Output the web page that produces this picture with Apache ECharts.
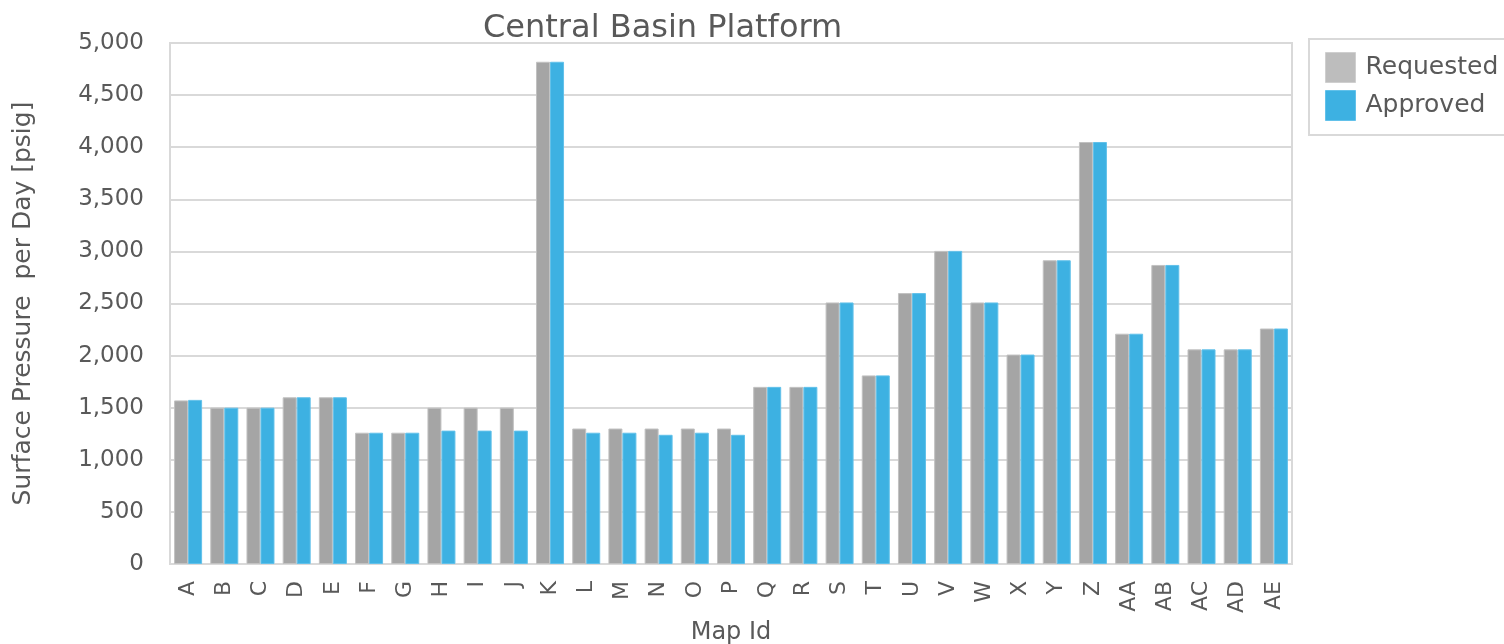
<!DOCTYPE html>
<html>
<head>
<meta charset="UTF-8">
<title>Central Basin Platform</title>
<script src="https://cdn.jsdelivr.net/npm/echarts@6/dist/echarts.min.js"></script>
<style>
body {
    padding: 0;
    margin: 0;
    background: #fff;
}
#main {
    width: 1504px;
    height: 644px;
}
</style>
</head>
<body>
<div id="main"></div>
<script>
// map ids along the x axis
var mapIds = ['A','B','C','D','E','F','G','H','I','J','K','L','M','N','O','P',
    'Q','R','S','T','U','V','W','X','Y','Z','AA','AB','AC','AD','AE'];
// surface pressure per day (psig)
var requested = [1570,1500,1500,1600,1600,1260,1260,1500,1500,1500,4820,1300,1300,1300,1300,1300,
    1700,1700,2510,1810,2600,3005,2510,2010,2915,4050,2210,2870,2060,2060,2260];
var approved = [1575,1500,1500,1600,1600,1260,1260,1280,1280,1280,4820,1260,1260,1240,1260,1240,
    1700,1700,2510,1810,2600,3005,2510,2010,2915,4050,2210,2870,2060,2060,2260];
var yTicks = [0,500,1000,1500,2000,2500,3000,3500,4000,4500,5000];

var txt = '#595959';
var font = 'DejaVu Sans';
var chart = echarts.init(document.getElementById('main'));

var option = {
    animation: false,
    textStyle: { fontFamily: font, color: txt },
    title: {
        text: 'Central Basin Platform',
        left: 478,
        top: 8,
        textStyle: { fontFamily: font, fontSize: 32, fontWeight: 'normal', color: txt }
    },
    legend: {
        data: [
            { name: 'Requested', itemStyle: { color: '#bdbdbd', borderColor: '#cfcfcf', borderWidth: 1 } },
            { name: 'Approved', itemStyle: { color: '#3db1e2', borderColor: '#62c1ea', borderWidth: 1 } }
        ],
        icon: 'rect',
        orient: 'vertical',
        left: 1309,
        top: 39,
        padding: [13, 40, 14, 16],
        itemWidth: 30,
        itemHeight: 30,
        itemGap: 7,
        borderColor: '#d9d9d9',
        borderWidth: 2,
        textStyle: { fontFamily: font, fontSize: 25, color: txt, padding: [0, 0, 0, 5] }
    },
    grid: {
        left: 170,
        right: 212,
        top: 43,
        bottom: 80,
        outerBoundsMode: 'none',
        show: true,
        borderColor: '#d9d9d9',
        borderWidth: 2
    },
    xAxis: {
        type: 'category',
        data: mapIds,
        name: 'Map Id',
        nameLocation: 'middle',
        nameGap: 52,
        nameTextStyle: { fontFamily: font, fontSize: 24, color: txt },
        axisLine: { lineStyle: { color: '#d9d9d9', width: 2 } },
        axisTick: { show: false },
        axisLabel: { rotate: 90, fontFamily: font, fontSize: 22, color: txt, margin: 17 }
    },
    yAxis: {
        type: 'value',
        min: 0,
        max: 5000,
        interval: 500,
        name: 'Surface Pressure  per Day [psig]',
        nameLocation: 'middle',
        nameGap: 134,
        nameTextStyle: { fontFamily: font, fontSize: 25, color: txt },
        axisLabel: {
            fontFamily: font, fontSize: 23, color: txt, margin: 26,
            formatter: function (v) {
                return yTicks.indexOf(v) >= 0 ? v.toLocaleString('en-US') : '';
            }
        },
        splitLine: { lineStyle: { color: '#d9d9d9', width: 2 } }
    },
    series: [
        {
            name: 'Requested',
            type: 'bar',
            data: requested,
            barWidth: 14,
            barGap: '0%',
            itemStyle: { color: '#a5a5a5', borderColor: '#c2c2c2', borderWidth: 1 }
        },
        {
            name: 'Approved',
            type: 'bar',
            data: approved,
            barWidth: 14,
            itemStyle: { color: '#3db1e2', borderColor: '#62c1ea', borderWidth: 1 }
        }
    ]
};
chart.setOption(option);
</script>
</body>
</html>
